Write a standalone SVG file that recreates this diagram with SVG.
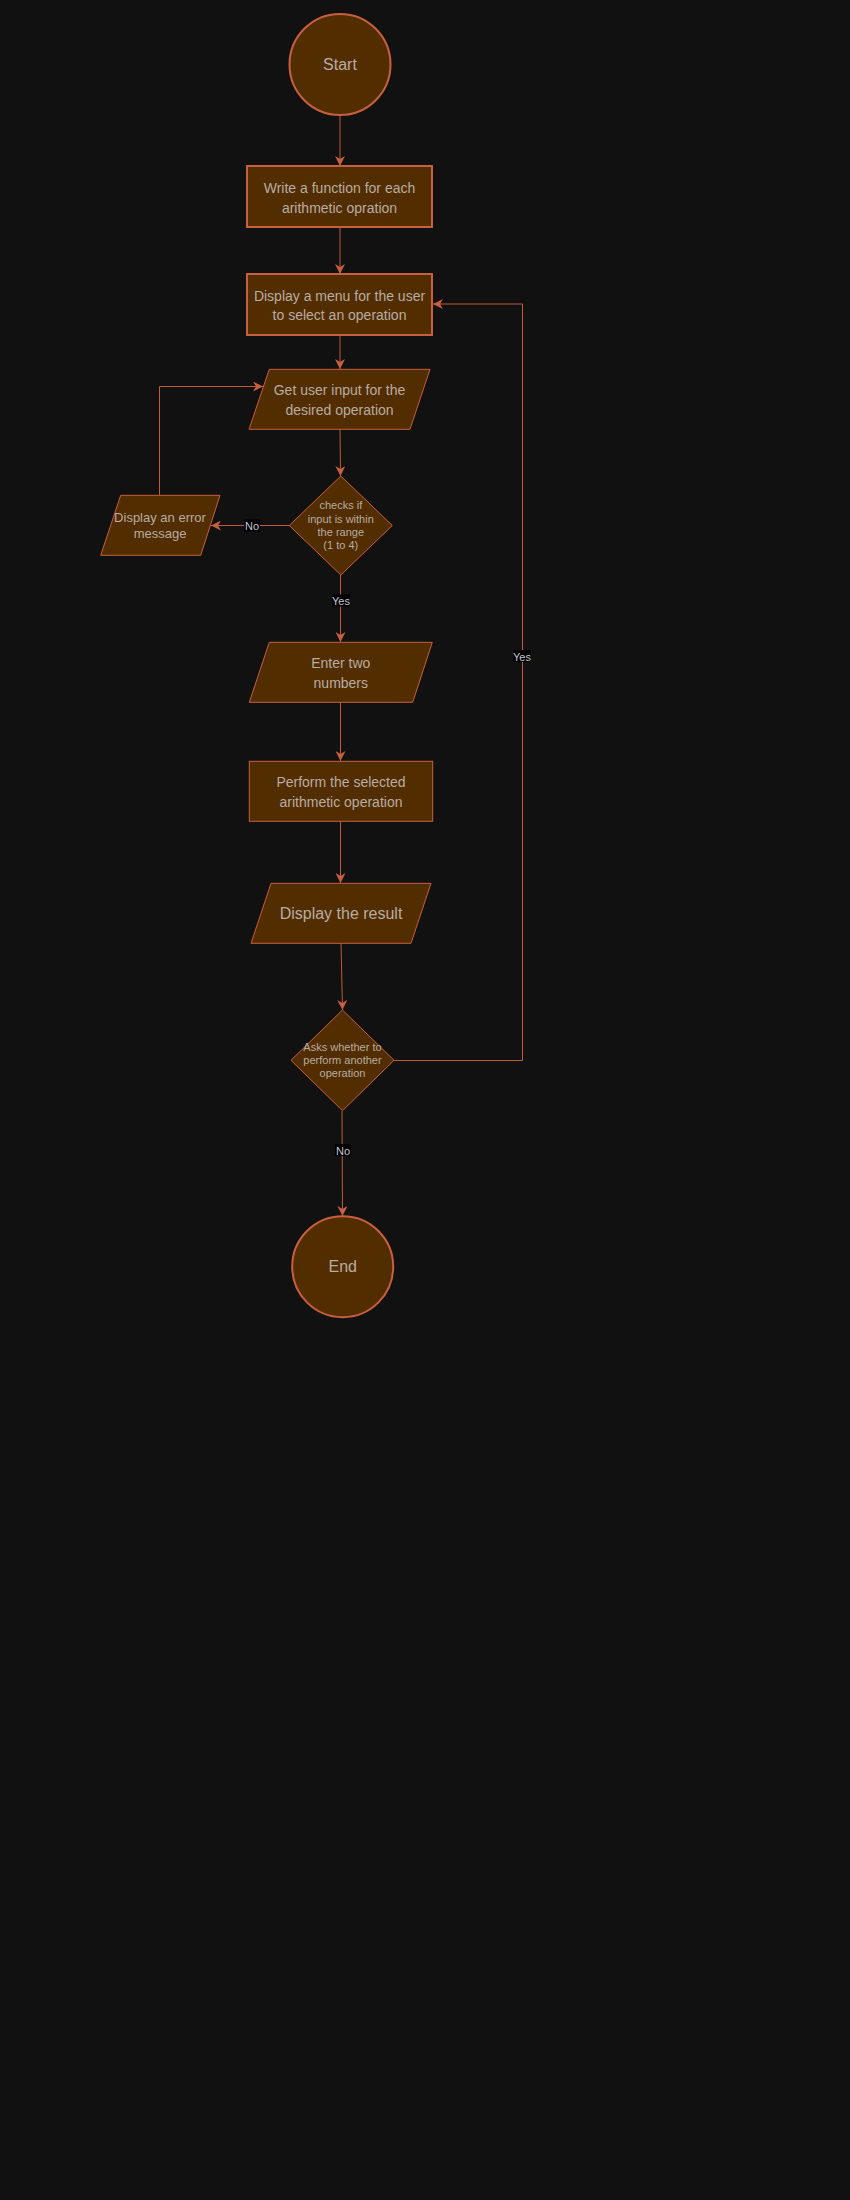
<svg xmlns="http://www.w3.org/2000/svg" width="850" height="2200" viewBox="0 0 850 2200">
<defs>
<marker id="arr" viewBox="0 0 10 10" refX="10" refY="5" markerWidth="10" markerHeight="10" markerUnits="userSpaceOnUse" orient="auto">
<path d="M0,0 L10,5 L0,10 L3,5 Z" fill="#c85f3e"/>
</marker>
<style>
.bg{fill:#111111}
.sh{fill:#522d00;stroke:#c85f3e;stroke-width:1}
.thick{stroke-width:2}
.t{font-family:"Liberation Sans",Arial,sans-serif;fill:#b8aca4;text-anchor:middle;dominant-baseline:central}
.c{fill:none;stroke:#c05a3a;stroke-width:1}
.lb{fill:#000000}
.lt{font-family:"Liberation Sans",Arial,sans-serif;font-size:11px;fill:#c4c4d0;text-anchor:middle;dominant-baseline:central}
</style>
</defs>
<rect class="bg" x="0" y="0" width="850" height="2200"/>
<g id="connectors">
<path class="c" d="M340,115 L340,166" marker-end="url(#arr)"/>
<path class="c" d="M340,227 L340,274" marker-end="url(#arr)"/>
<path class="c" d="M340,335 L340,369" marker-end="url(#arr)"/>
<path class="c" d="M340,429 L340.5,476" marker-end="url(#arr)"/>
<path class="c" d="M289.5,525.5 L211,525.5" marker-end="url(#arr)"/>
<path class="c" d="M159.5,495 L159.5,386.5 L263,386.5" marker-end="url(#arr)"/>
<path class="c" d="M340.5,575 L340.5,642" marker-end="url(#arr)"/>
<path class="c" d="M340.5,702 L340.5,761" marker-end="url(#arr)"/>
<path class="c" d="M340.5,821 L340.5,883" marker-end="url(#arr)"/>
<path class="c" d="M341,943 L342.5,1010" marker-end="url(#arr)"/>
<path class="c" d="M394,1060.5 L522.5,1060.5 L522.5,304 L433,304" marker-end="url(#arr)"/>
<path class="c" d="M342,1111 L342.5,1216" marker-end="url(#arr)"/>
<g id="label-no-1"><rect class="lb" x="244" y="519.5" width="16" height="12"/><text class="lt" x="252" y="526">No</text></g>
<g id="label-yes-1"><rect class="lb" x="332" y="594.5" width="18" height="12"/><text class="lt" x="341" y="601">Yes</text></g>
<g id="label-yes-2"><rect class="lb" x="513" y="650" width="18" height="12"/><text class="lt" x="522" y="656.5">Yes</text></g>
<g id="label-no-2"><rect class="lb" x="335" y="1144" width="16" height="12"/><text class="lt" x="343" y="1150.5">No</text></g>
</g>
<g id="start">
<circle class="sh thick" cx="340" cy="64.5" r="50.5"/>
<text class="t" x="340" y="64.5" font-size="16">Start</text>
</g>
<g id="write-functions">
<rect class="sh thick" x="247" y="166" width="185" height="61"/>
<text class="t" x="339.5" y="187.5" font-size="14">Write a function for each</text>
<text class="t" x="339.5" y="207.5" font-size="14">arithmetic opration</text>
</g>
<g id="display-menu">
<rect class="sh thick" x="247" y="274" width="185" height="61"/>
<text class="t" x="339.5" y="295.5" font-size="14">Display a menu for the user</text>
<text class="t" x="339.5" y="315" font-size="14">to select an operation</text>
</g>
<g id="get-input">
<polygon class="sh" points="269.3,369.3 430,369.3 410,429.3 249,429.3"/>
<text class="t" x="339.5" y="390" font-size="14">Get user input for the</text>
<text class="t" x="339.5" y="410" font-size="14">desired operation</text>
</g>
<g id="check-range">
<polygon class="sh" points="340.8,476 392.3,525.5 340.8,575 289.3,525.5"/>
<text class="t" x="340.8" y="505.3" font-size="11">checks if</text>
<text class="t" x="340.8" y="518.5" font-size="11">input is within</text>
<text class="t" x="340.8" y="532" font-size="11">the range</text>
<text class="t" x="340.8" y="544.5" font-size="11">(1 to 4)</text>
</g>
<g id="error-message">
<polygon class="sh" points="120.7,495.3 220,495.3 200.7,555.3 100.7,555.3"/>
<text class="t" x="160" y="517.7" font-size="13">Display an error</text>
<text class="t" x="160" y="533.5" font-size="13">message</text>
</g>
<g id="enter-numbers">
<polygon class="sh" points="269.3,642.3 432.3,642.3 412.7,702.3 249.3,702.3"/>
<text class="t" x="340.8" y="663.3" font-size="14">Enter two</text>
<text class="t" x="340.8" y="682.7" font-size="14">numbers</text>
</g>
<g id="perform-operation">
<rect class="sh" x="249.3" y="761.3" width="183.4" height="60"/>
<text class="t" x="341" y="782.3" font-size="14">Perform the selected</text>
<text class="t" x="341" y="802" font-size="14">arithmetic operation</text>
</g>
<g id="display-result">
<polygon class="sh" points="271,883.3 431,883.3 411,943.3 251,943.3"/>
<text class="t" x="341" y="913.3" font-size="16">Display the result</text>
</g>
<g id="ask-again">
<polygon class="sh" points="342.5,1010 394,1060.3 342.5,1110.7 291,1060.3"/>
<text class="t" x="342.5" y="1047.3" font-size="11">Asks whether to</text>
<text class="t" x="342.5" y="1060" font-size="11">perform another</text>
<text class="t" x="342.5" y="1073.3" font-size="11">operation</text>
</g>
<g id="end">
<circle class="sh thick" cx="342.7" cy="1266.7" r="50.5"/>
<text class="t" x="342.7" y="1266.7" font-size="16">End</text>
</g>
</svg>
